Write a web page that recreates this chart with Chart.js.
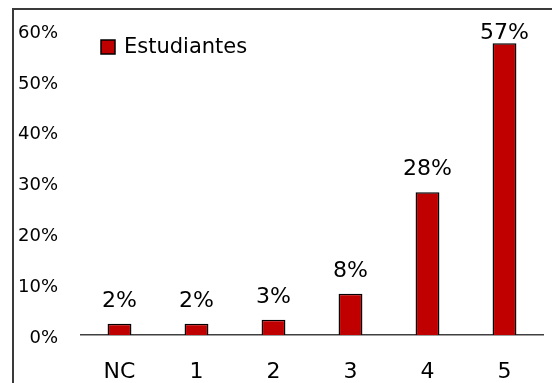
<!DOCTYPE html>
<html lang="es">
<head>
    <meta charset="UTF-8">
    <script src="https://cdn.jsdelivr.net/npm/chart.js@4.4.0/dist/chart.umd.min.js"></script>
    <title>Estudiantes</title>
    <style>
        body { margin: 0; background: #fff; }
        #wrap { position: relative; width: 552px; height: 383px; overflow: hidden; }
        #frame { position: absolute; left: 12px; top: 8px; width: 600px; height: 600px;
                 border-left: 2px solid #3a3a3a; border-top: 2px solid #3a3a3a; }
        canvas { position: absolute; left: 0; top: 0; }
    </style>
</head>
<body>
    <div id="wrap">
        <div id="frame"></div>
        <canvas id="chart" width="552" height="383"></canvas>
    </div>

    <script>
        const categories = ['NC', '1', '2', '3', '4', '5'];
        const estudiantes = [2.2, 2.2, 3.0, 8.1, 28.1, 57.4];
        const yTicks = [0, 10, 20, 30, 40, 50, 60];

        const FONT = "'DejaVu Sans', sans-serif";

        // value labels above each bar, kept inside the frame like Excel does
        const barLabels = {
            id: 'barLabels',
            afterDatasetsDraw(chart) {
                const ctx = chart.ctx;
                const meta = chart.getDatasetMeta(0);
                ctx.save();
                ctx.font = '22px ' + FONT;
                ctx.fillStyle = '#000';
                ctx.textAlign = 'center';
                ctx.textBaseline = 'alphabetic';
                meta.data.forEach((bar, i) => {
                    const y = Math.max(bar.y - 17, chart.chartArea.top + 9);
                    ctx.fillText(Math.round(estudiantes[i]) + '%', bar.x, y);
                });
                ctx.restore();
            }
        };

        new Chart(document.getElementById('chart'), {
            type: 'bar',
            data: {
                labels: categories,
                datasets: [{
                    label: 'Estudiantes',
                    data: estudiantes,
                    backgroundColor: '#C00000',
                    borderColor: '#000',
                    borderWidth: 1.5,
                    barPercentage: 0.31,
                    categoryPercentage: 1
                }]
            },
            options: {
                responsive: false,
                animation: false,
                layout: { padding: { top: 30, right: 9, left: 0, bottom: 0 } },
                plugins: {
                    legend: { display: false },
                    tooltip: { enabled: false }
                },
                scales: {
                    x: {
                        grid: { display: false, drawTicks: false },
                        border: { display: true, color: '#404040', width: 1.5 },
                        ticks: { color: '#000', font: { family: FONT, size: 22 }, padding: 24 },
                        afterFit(scale) {
                            scale.height = 48;
                            scale.paddingLeft = 0;
                            scale.paddingRight = 0;
                        }
                    },
                    y: {
                        min: 0,
                        max: 60,
                        grid: { display: false, drawTicks: false },
                        border: { display: false },
                        afterBuildTicks(scale) { scale.ticks = yTicks.map(v => ({ value: v })); },
                        ticks: {
                            color: '#000',
                            font: { family: FONT, size: 18 },
                            padding: 23,
                            labelOffset: 3,
                            callback: v => v + '%'
                        },
                        afterFit(scale) {
                            scale.width = 81;
                            scale.paddingTop = 0;
                            scale.paddingBottom = 0;
                        }
                    }
                }
            },
            plugins: [barLabels, {
                id: 'legendBox',
                afterDraw(chart) {
                    // legend entry drawn in the top-left, as in the original
                    const ctx = chart.ctx;
                    const left = chart.chartArea.left + 20;
                    const top = chart.chartArea.top + 10;
                    ctx.save();
                    ctx.fillStyle = '#C00000';
                    ctx.strokeStyle = '#000';
                    ctx.lineWidth = 1.5;
                    ctx.fillRect(left, top, 14, 14);
                    ctx.strokeRect(left, top, 14, 14);
                    ctx.fillStyle = '#000';
                    ctx.font = '21px ' + FONT;
                    ctx.textBaseline = 'middle';
                    ctx.fillText(chart.data.datasets[0].label, left + 23, top + 8);
                    ctx.restore();
                }
            }]
        });
    </script>
</body>
</html>
